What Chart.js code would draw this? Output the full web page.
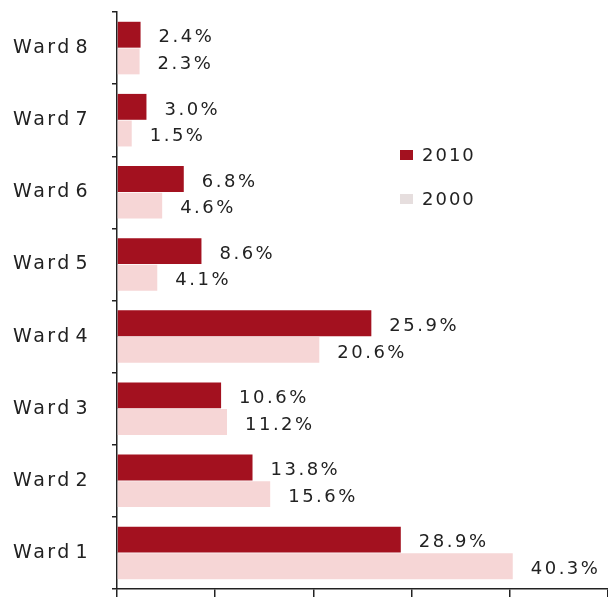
<!DOCTYPE html>
<html>
<head>
<meta charset="utf-8">
<script src="https://cdn.jsdelivr.net/npm/chart.js@4/dist/chart.umd.min.js"></script>
<style>
  html, body { margin: 0; padding: 0; background: #ffffff; }
  #wrap { width: 608px; height: 597px; position: relative; }
</style>
</head>
<body>
<div id="wrap"><canvas id="c"></canvas></div>
<script>
const categories = ['Ward 8', 'Ward 7', 'Ward 6', 'Ward 5', 'Ward 4', 'Ward 3', 'Ward 2', 'Ward 1'];
const values2010 = [2.4, 3.0, 6.8, 8.6, 25.9, 10.6, 13.8, 28.9];
const values2000 = [2.3, 1.5, 4.6, 4.1, 20.6, 11.2, 15.6, 40.3];
const seriesNames = ['2010', '2000'];
const colors = ['#a3111f', '#f6d6d6'];
const legendColors = ['#a3111f', '#e6dede'];

const FONT = '"DejaVu Sans", Verdana, sans-serif';

const spacingPlugin = {
  id: 'spacing',
  beforeDraw(chart) { chart.ctx.letterSpacing = '2.5px'; chart.ctx.wordSpacing = '-5px'; },
  afterDraw(chart) { chart.ctx.letterSpacing = '0px'; chart.ctx.wordSpacing = '0px'; }
};

const valueLabels = {
  id: 'valueLabels',
  afterDatasetsDraw(chart) {
    const ctx = chart.ctx;
    ctx.save();
    ctx.letterSpacing = '2.5px';
    ctx.font = '18px ' + FONT;
    ctx.fillStyle = '#222222';
    ctx.textAlign = 'left';
    ctx.textBaseline = 'middle';
    chart.data.datasets.forEach((ds, di) => {
      const meta = chart.getDatasetMeta(di);
      meta.data.forEach((el, i) => {
        ctx.fillText(ds.data[i].toFixed(1) + '%', el.x + 18, el.y + 3);
      });
    });
    ctx.restore();
  }
};

const customLegend = {
  id: 'customLegend',
  afterDraw(chart) {
    const ctx = chart.ctx;
    const area = chart.chartArea;
    ctx.save();
    ctx.letterSpacing = '2px';
    ctx.font = '18px ' + FONT;
    ctx.textAlign = 'left';
    ctx.textBaseline = 'middle';
    const x0 = area.left + 283;
    const y0 = area.top + 143;
    seriesNames.forEach((name, i) => {
      const y = y0 + i * 44;
      ctx.fillStyle = legendColors[i];
      ctx.fillRect(x0, y - 5, 13, 10);
      ctx.fillStyle = '#222222';
      ctx.fillText(name, x0 + 22, y + 1);
    });
    ctx.restore();
  }
};

new Chart(document.getElementById('c'), {
  type: 'bar',
  data: {
    labels: categories,
    datasets: [
      { label: seriesNames[0], data: values2010, backgroundColor: colors[0], categoryPercentage: 0.74, barPercentage: 0.97 },
      { label: seriesNames[1], data: values2000, backgroundColor: colors[1], categoryPercentage: 0.74, barPercentage: 0.97 }
    ]
  },
  options: {
    indexAxis: 'y',
    responsive: true,
    maintainAspectRatio: false,
    animation: false,
    layout: { padding: { top: 12, right: 0, left: 0, bottom: 0 } },
    plugins: {
      legend: { display: false },
      tooltip: { enabled: false }
    },
    scales: {
      x: {
        min: 0,
        max: 50,
        ticks: { display: false, stepSize: 10 },
        grid: { drawOnChartArea: false, drawTicks: true, tickLength: 8, color: '#222222', lineWidth: 1.5 },
        border: { color: '#222222', width: 1.5 },
        afterFit(scale) { scale.height = 8; scale.paddingLeft = 0; scale.paddingRight = 0; scale.paddingTop = 0; scale.paddingBottom = 0; }
      },
      y: {
        ticks: { color: '#222222', font: { family: FONT, size: 19 }, padding: 22 },
        grid: { offset: true, drawOnChartArea: false, drawTicks: true, tickLength: 5, color: '#222222', lineWidth: 1.5 },
        border: { color: '#222222', width: 1.5 },
        afterFit(scale) { scale.width = 117; scale.paddingTop = 0; scale.paddingBottom = 0; scale.paddingLeft = 0; scale.paddingRight = 0; }
      }
    }
  },
  plugins: [spacingPlugin, valueLabels, customLegend]
});
</script>
</body>
</html>
